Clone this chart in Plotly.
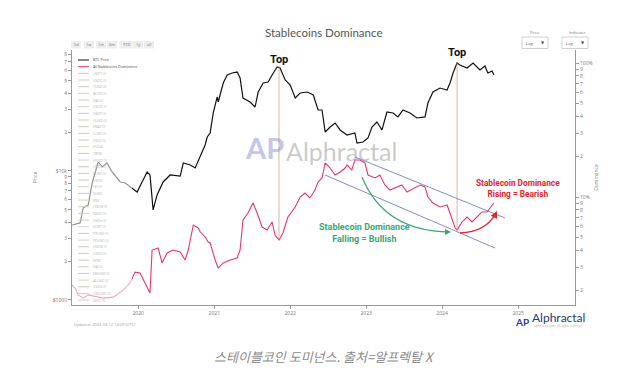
import plotly.graph_objects as go

# ---------------- data ----------------
btc_dates = ["2019-02-18","2019-03-28","2019-04-12","2019-05-06","2019-05-25","2019-06-23","2019-07-12",
             "2019-08-04","2019-08-29","2019-10-07","2019-10-31","2019-11-23","2019-12-27","2020-01-20",
             "2020-02-13","2020-02-27","2020-03-13","2020-04-01","2020-04-30","2020-06-03","2020-07-21",
             "2020-08-05","2020-09-08","2020-10-01","2020-10-25","2020-11-18","2020-11-28","2020-12-12",
             "2020-12-27","2021-01-15","2021-01-20","2021-02-13","2021-03-04","2021-03-28","2021-04-21",
             "2021-05-05","2021-05-19","2021-06-22","2021-07-16","2021-07-31","2021-08-24","2021-09-17",
             "2021-10-06","2021-10-30","2021-11-13","2021-12-08","2022-01-01","2022-01-25","2022-02-18",
             "2022-03-24","2022-04-22","2022-05-15","2022-06-03","2022-06-18","2022-07-12","2022-08-05",
             "2022-08-29","2022-10-01","2022-11-08","2022-11-18","2022-12-17","2023-01-10","2023-01-29",
             "2023-02-22","2023-03-18","2023-04-11","2023-05-10","2023-06-03","2023-06-27","2023-07-31",
             "2023-09-02","2023-10-11","2023-10-25","2023-11-18","2023-12-22","2024-01-25","2024-02-08",
             "2024-02-23","2024-03-13","2024-03-27","2024-04-30","2024-05-29","2024-07-01","2024-07-25",
             "2024-08-08","2024-08-28","2024-09-06"]
btc_price = [3810,3955,5165,5450,8070,11740,10740,11530,9820,8220,8070,7515,6875,8220,
             9820,9310,4990,6520,8220,9310,9140,11530,11130,10550,12840,15900,18350,19700,
             28180,37480,34270,48100,55480,57540,58500,52600,36800,34270,31340,40950,48100,48980,
             55480,63990,62850,50760,46420,36800,40240,40950,38830,29700,29700,20050,21930,23550,
             20800,19010,19720,16480,16780,18020,21930,23980,20800,28660,28180,26240,29700,28180,
             25760,26240,33650,40950,43980,42450,48100,57540,68710,66350,62850,68710,60650,65160,
             57540,59610,55480]

dom_dates = ["2019-02-18","2019-03-04","2019-03-18","2019-04-12","2019-05-06","2019-07-16","2019-09-03",
             "2019-10-21","2019-11-23","2019-12-17","2020-01-10","2020-02-13","2020-02-27","2020-03-08",
             "2020-04-06","2020-04-25","2020-05-19","2020-06-17","2020-07-21","2020-08-14","2020-08-29",
             "2020-09-22","2020-10-16","2020-10-25","2020-11-09","2020-11-18","2020-12-03","2020-12-12",
             "2021-01-05","2021-01-20","2021-02-13","2021-03-18","2021-04-21","2021-05-05","2021-05-19",
             "2021-06-12","2021-07-06","2021-07-26","2021-08-19","2021-09-12","2021-10-06","2021-10-20",
             "2021-11-08","2021-11-27","2021-12-21","2022-01-25","2022-02-18","2022-03-13","2022-04-06",
             "2022-04-30","2022-05-15","2022-06-03","2022-06-18","2022-07-12","2022-08-05","2022-08-29",
             "2022-09-22","2022-10-01","2022-10-24","2022-11-08","2022-12-02","2022-12-26","2023-01-10",
             "2023-02-13","2023-03-08","2023-04-01","2023-04-25","2023-05-29","2023-06-22","2023-07-16",
             "2023-08-14","2023-09-17","2023-10-11","2023-10-25","2023-11-18","2023-12-22","2024-01-25",
             "2024-02-08","2024-03-04","2024-03-13","2024-04-06","2024-04-30","2024-05-24","2024-06-17",
             "2024-07-11","2024-08-04","2024-08-18","2024-09-06"]
dom_values = [2.20,2.09,1.86,1.76,1.86,1.76,1.79,2.02,2.28,2.75,2.71,2.13,1.92,4.02,
              4.16,3.22,3.82,4.02,3.89,3.39,4.02,6.18,5.87,5.50,5.20,5.03,4.61,4.54,
              3.39,2.95,3.22,3.39,3.51,4.02,6.73,7.60,9.02,7.60,5.97,5.67,6.51,5.20,
              4.78,5.39,7.09,8.42,10.0,10.71,9.83,11.28,12.94,13.86,17.94,16.45,14.59,15.37,
              16.45,17.33,15.90,18.88,18.88,17.94,14.59,13.86,14.59,12.29,11.28,11.88,12.29,10.90,
              11.47,12.29,11.88,10.0,9.02,8.42,8.71,7.60,5.87,5.67,6.51,7.09,6.51,7.09,
              7.73,7.73,8.28,9.02]

x_tick_vals = ["2020-01-01","2021-01-01","2022-01-01","2023-01-01","2024-01-01","2025-01-01"]
x_tick_text = ["2020","2021","2022","2023","2024","2025"]
price_tick_vals = [1000,2000,3000,4000,5000,6000,7000,8000,9000,
                   10000,20000,30000,40000,50000,60000,70000,80000]
price_tick_text = ["$1000","2","3","4","5","6","7","8","9",
                   "$10k","2","3","4","5","6","7","8"]
dom_tick_vals = [2,3,4,5,6,7,8,9,10,20,30,40,50,60,70,80,90,100]
dom_tick_text = ["2","3","4","5","6","7","8","9","10%","2","3","4","5","6","7","8","9","100%"]

legend_names = ["BTC Price","All Stablecoins Dominance","USDT (l)","USDC (l)","TUSD (l)","BUSD (l)",
                "DAI (l)","USDD (l)","USDP (l)","GUSD (l)","FRAX (l)","LUSD (l)","USDJ (l)","DOLA",
                "TRYB","HUSD (l)","USDX (l)","EURS (l)","USDK","FEI (l)","SUSD","RSV","USDN (l)",
                "XSGD (l)","USDe (l)","EURT (l)","PYUSD (l)","FDUSD (l)","USDB (l)","USD0 (l)","MIM",
                "VAI (l)","MKUSD (l)","ALUSD (l)","USDS (l)","CRVUSD (l)","GHO (l)"]
range_buttons = ["5d","1w","1m","6m","YTD","1y","all"]
top_dates = ["2021-11-08","2024-03-13"]

# ---------------- layout helpers (pixel -> paper) ----------------
L, R, T, B = 72, 575, 50, 305
W, H = R - L, B - T
def fx(p): return (p - L) / W
def fy(p): return (B - p) / H

GREEN = "#3ba672"
RED = "#e0262e"
CHAN = "rgba(110,118,195,0.85)"

annotations = []
shapes = []

def ann(xp, yp, text, size, color, family="Open Sans", xanchor="center", yanchor="middle"):
    annotations.append(dict(xref="paper", yref="paper", x=fx(xp), y=fy(yp), text=text, showarrow=False,
                            xanchor=xanchor, yanchor=yanchor, borderpad=0,
                            font=dict(family=family, size=size, color=color)))

fig = go.Figure()
fig.add_trace(go.Scatter(x=btc_dates, y=btc_price, mode="lines", yaxis="y",
                         line=dict(color="#111111", width=1.2), showlegend=False))
fig.add_trace(go.Scatter(x=dom_dates, y=dom_values, mode="lines", yaxis="y2",
                         line=dict(color="#e4376c", width=1.1), showlegend=False))

# vertical "Top" lines
for d, ytop, ybot in zip(top_dates, [66, 63], [240, 230]):
    shapes.append(dict(type="line", xref="x", yref="paper", x0=d, x1=d, y0=fy(ybot), y1=fy(ytop),
                       line=dict(color="rgba(200,160,130,0.75)", width=1)))
for d, ylab in zip(top_dates, [59, 53]):
    annotations.append(dict(xref="x", yref="paper", x=d, y=fy(ylab), text="<b>Top</b>", showarrow=False,
                            xanchor="center", yanchor="middle", borderpad=0,
                            font=dict(family="Roboto", size=11, color="#111")))

# channel lines
shapes.append(dict(type="line", xref="paper", yref="paper", x0=fx(355), y0=fy(157), x1=fx(505), y1=fy(218),
                   line=dict(color=CHAN, width=1)))
shapes.append(dict(type="line", xref="paper", yref="paper", x0=fx(325), y0=fy(175), x1=fx(495), y1=fy(248),
                   line=dict(color=CHAN, width=1)))

# curved arrows
def qpath(p0, c, p1):
    return "M {},{} Q {},{} {},{}".format(fx(p0[0]), fy(p0[1]), fx(c[0]), fy(c[1]), fx(p1[0]), fy(p1[1]))
shapes.append(dict(type="path", xref="paper", yref="paper", path=qpath((362, 177), (384, 231), (449, 232)),
                   line=dict(color=GREEN, width=1.2)))
shapes.append(dict(type="path", xref="paper", yref="paper", path=qpath((460, 233), (486, 232), (496, 213)),
                   line=dict(color=RED, width=1.4)))
annotations.append(dict(xref="paper", yref="paper", x=fx(451), y=fy(232), ax=-6, ay=0, text="",
                        showarrow=True, arrowhead=2, arrowsize=1, arrowwidth=1.2, arrowcolor=GREEN))
annotations.append(dict(xref="paper", yref="paper", x=fx(497), y=fy(211), ax=-3, ay=6, text="",
                        showarrow=True, arrowhead=2, arrowsize=1, arrowwidth=1.4, arrowcolor=RED))

ann(364, 233, "<b>Stablecoin Dominance<br>Falling = Bullish</b>", 9, GREEN, "Roboto")
ann(518, 188, "<b>Stablecoin Dominance<br>Rising = Bearish</b>", 8.3, RED, "Roboto")

# watermark
ann(264, 147, "<b>AP</b>", 29, "rgba(120,128,205,0.45)", "Lato")
ann(285, 151, "Alphractal", 25, "rgba(150,150,150,0.5)", "Lato", xanchor="left")

# legend (drawn manually; entries are tiny in the original)
shapes.append(dict(type="rect", xref="paper", yref="paper", x0=0, x1=fx(132), y0=0, y1=fy(54),
                   fillcolor="rgba(255,255,255,0.55)", line=dict(width=0), layer="above"))
faded = ["#c6cfc0", "#cbd3c4", "#c9c9c9", "#cfd6c7", "#c4ccbd", "#d0d0c8"]
for i, name in enumerate(legend_names):
    yp = 60 + 6.67 * i
    if i == 0:
        col, tcol = "#111111", "#444"
    elif i == 1:
        col, tcol = "#e4376c", "#444"
    else:
        col, tcol = faded[i % len(faded)], "#b5b5b5"
    shapes.append(dict(type="line", xref="paper", yref="paper", x0=fx(78), x1=fx(89), y0=fy(yp), y1=fy(yp),
                       line=dict(color=col, width=1), layer="above"))
    ann(92, yp, name, 3.6, tcol, xanchor="left")

# range selector buttons
bx = [76, 89, 101, 112, 126, 138, 149]
for cx, lab in zip(bx, range_buttons):
    w = 13 if lab == "YTD" else 10
    shapes.append(dict(type="rect", xref="paper", yref="paper", x0=fx(cx - w / 2), x1=fx(cx + w / 2),
                       y0=fy(48.5), y1=fy(41), fillcolor="#eeeeee", line=dict(width=0)))
    ann(cx, 44.7, lab, 4, "#777")

# dropdowns
for lab, cx, x0, x1 in [("Price", 535, 522, 548), ("Indicator", 577, 562, 588)]:
    ann(cx, 32.5, lab, 4, "#777")
    shapes.append(dict(type="rect", xref="paper", yref="paper", x0=fx(x0), x1=fx(x1), y0=fy(48.5), y1=fy(37),
                       fillcolor="white", line=dict(color="#d0d0d0", width=1)))
    ann(x0 + 3, 43, "Log", 4, "#555", xanchor="left")
    ann(x1 - 5, 42.5, "▼", 4, "#444", "DejaVu Sans")

# title
ann(323, 32, "Stablecoins Dominance", 11.5, "#555", "Lato")

# updated text
ann(73, 324, "Updated: 2024-09-12 14:29 (UTC)", 4, "#999", xanchor="left")

# bottom-right logo
ann(522, 321.5, "<b>AP</b>", 10, "#2f3f9e", "Lato")
ann(531, 317, "Alphractal", 12, "#263a70", "Lato", xanchor="left")
ann(533, 326, "alphractal.com · all rights reserved", 3, "#aaa", xanchor="left")

# caption
ann(324.5, 356, "<i>스테이블코인 도미넌스. 출처=알프렉탈 X</i>", 13, "#8a8a8a", "Noto Sans CJK KR")

axis_font = dict(family="Open Sans", size=5, color="#777")
fig.update_layout(
    width=624, height=379, autosize=False,
    margin=dict(l=L, r=624 - R, t=T, b=379 - B, pad=0, autoexpand=False),
    paper_bgcolor="white", plot_bgcolor="white",
    showlegend=False,
    xaxis=dict(type="date", range=["2019-02-17", "2025-10-01"], tickvals=x_tick_vals, ticktext=x_tick_text,
               ticks="outside", ticklen=3, tickcolor="#999", showline=True, linecolor="#999", linewidth=1,
               showgrid=False, zeroline=False, tickfont=axis_font, automargin=False),
    yaxis=dict(type="log", range=[2.961, 4.938], tickvals=price_tick_vals, ticktext=price_tick_text,
               ticks="outside", ticklen=3, tickcolor="#999", showline=True, linecolor="#999", linewidth=1,
               showgrid=False, zeroline=False, tickfont=axis_font, automargin=False,
               title=dict(text="Price", font=dict(family="Open Sans", size=5, color="#888"), standoff=14)),
    yaxis2=dict(type="log", range=[0.194, 2.097], overlaying="y", side="right",
                tickvals=dom_tick_vals, ticktext=dom_tick_text, automargin=False,
                ticks="outside", ticklen=3, tickcolor="#999", showline=True, linecolor="#999", linewidth=1,
                showgrid=False, zeroline=False, tickfont=axis_font,
                title=dict(text="Dominance", font=dict(family="Open Sans", size=5, color="#888"), standoff=2)),
    shapes=shapes,
    annotations=annotations,
)

fig.write_html("out.html", config={"displayModeBar": False},
               post_script="document.body.style.margin='0';document.body.style.overflow='hidden';")
